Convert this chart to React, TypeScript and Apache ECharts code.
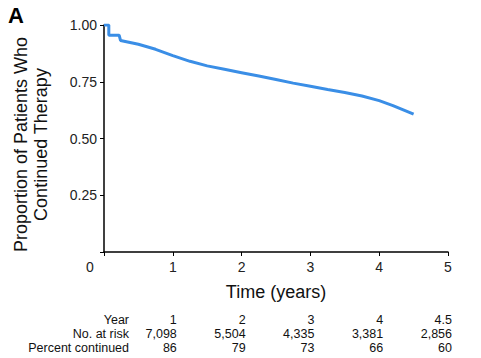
import React, { useEffect, useRef } from "react";
import * as echarts from "echarts";

const timeYears = [0, 0.07, 0.07, 0.22, 0.24, 0.5, 0.75, 1.0, 1.25, 1.5, 1.75, 2.0, 2.25, 2.5, 2.75, 3.0, 3.25, 3.5, 3.75, 4.0, 4.2, 4.5];
const proportion = [1.0, 1.0, 0.955, 0.955, 0.932, 0.915, 0.893, 0.865, 0.84, 0.82, 0.805, 0.79, 0.775, 0.76, 0.744, 0.73, 0.716, 0.703, 0.687, 0.667, 0.645, 0.607];

const riskYears = ["1", "2", "3", "4", "4.5"];
const atRisk = ["7,098", "5,504", "4,335", "3,381", "2,856"];
const pctContinued = ["86", "79", "73", "66", "60"];
const tableColX = [1, 2, 3, 4, 5];
const rowLabels = ["Year", "No. at risk", "Percent continued"];

const FONT = "'Liberation Sans Narrow', 'Liberation Sans', Arial, sans-serif";

export default function App() {
  const ref = useRef<HTMLDivElement>(null);
  useEffect(() => {
    if (!ref.current) return;
    const chart = echarts.init(ref.current, undefined, { renderer: "svg" });
    const data = timeYears.map((t, i) => [t, proportion[i]]);
    chart.setOption({
      animation: false,
      grid: { left: 104, right: 33, top: 25, bottom: 106 },
      xAxis: {
        type: "value",
        min: 0,
        max: 5,
        interval: 1,
        axisLine: { lineStyle: { color: "#000", width: 1.5 } },
        axisTick: { show: true, length: 4, lineStyle: { color: "#000" } },
        axisLabel: {
          color: "#222",
          fontFamily: FONT,
          fontSize: 14,
          margin: 8,
          formatter: (v: number) => (v === 0 ? "" : String(v)),
        },
        splitLine: { show: false },
      },
      yAxis: {
        type: "value",
        min: 0,
        max: 1,
        interval: 0.25,
        axisLine: { show: true, lineStyle: { color: "#000", width: 1.5 } },
        axisTick: { show: true, length: 4, lineStyle: { color: "#000" } },
        axisLabel: {
          color: "#222",
          fontFamily: FONT,
          fontSize: 14,
          margin: 7,
          formatter: (v: number) => (v === 0 ? "" : v.toFixed(2)),
        },
        splitLine: { show: false },
      },
      series: [
        {
          type: "line",
          data,
          showSymbol: false,
          lineStyle: { color: "#3a8ee6", width: 3 },
          itemStyle: { color: "#3a8ee6" },
        },
      ],
    });

    const gx = (v: number) => chart.convertToPixel({ xAxisIndex: 0 }, v) as number;
    const gy = (v: number) => chart.convertToPixel({ yAxisIndex: 0 }, v) as number;
    const x0 = gx(0);
    const y0 = gy(0);
    const y1 = gy(1);
    const xEnd = gx(5);

    const graphics: any[] = [];
    graphics.push({
      type: "text",
      left: 8,
      top: 4,
      style: { text: "A", font: `bold 22px 'Liberation Sans', Arial, sans-serif`, fill: "#000" },
    });
    graphics.push({
      type: "text",
      x: x0 - 14,
      y: y0 + 15,
      style: { text: "0", font: `14px ${FONT}`, fill: "#222", align: "center", verticalAlign: "middle" },
    });
    graphics.push({
      type: "text",
      x: 31,
      y: (y0 + y1) / 2 + 6,
      rotation: Math.PI / 2,
      style: {
        text: "Proportion of Patients Who\nContinued Therapy",
        font: `18px ${FONT}`,
        fill: "#111",
        align: "center",
        verticalAlign: "middle",
        lineHeight: 20,
      },
    });
    graphics.push({
      type: "text",
      x: (x0 + xEnd) / 2,
      y: y0 + 40,
      style: { text: "Time (years)", font: `18px ${FONT}`, fill: "#111", align: "center", verticalAlign: "middle" },
    });
    const rowY = [y0 + 68, y0 + 82, y0 + 96];
    rowLabels.forEach((lab, r) => {
      graphics.push({
        type: "text",
        x: 129,
        y: rowY[r],
        style: { text: lab, font: `12.5px ${FONT}`, fill: "#111", align: "right", verticalAlign: "middle" },
      });
    });
    const rows = [riskYears, atRisk, pctContinued];
    rows.forEach((row, r) => {
      row.forEach((txt, c) => {
        graphics.push({
          type: "text",
          x: gx(tableColX[c]) + 4,
          y: rowY[r],
          style: { text: txt, font: `12.5px ${FONT}`, fill: "#111", align: "right", verticalAlign: "middle" },
        });
      });
    });
    chart.setOption({ graphic: graphics });

    return () => chart.dispose();
  }, []);
  return <div ref={ref} style={{ width: 481, height: 358, position: "absolute", left: 0, top: 0 }} />;
}
